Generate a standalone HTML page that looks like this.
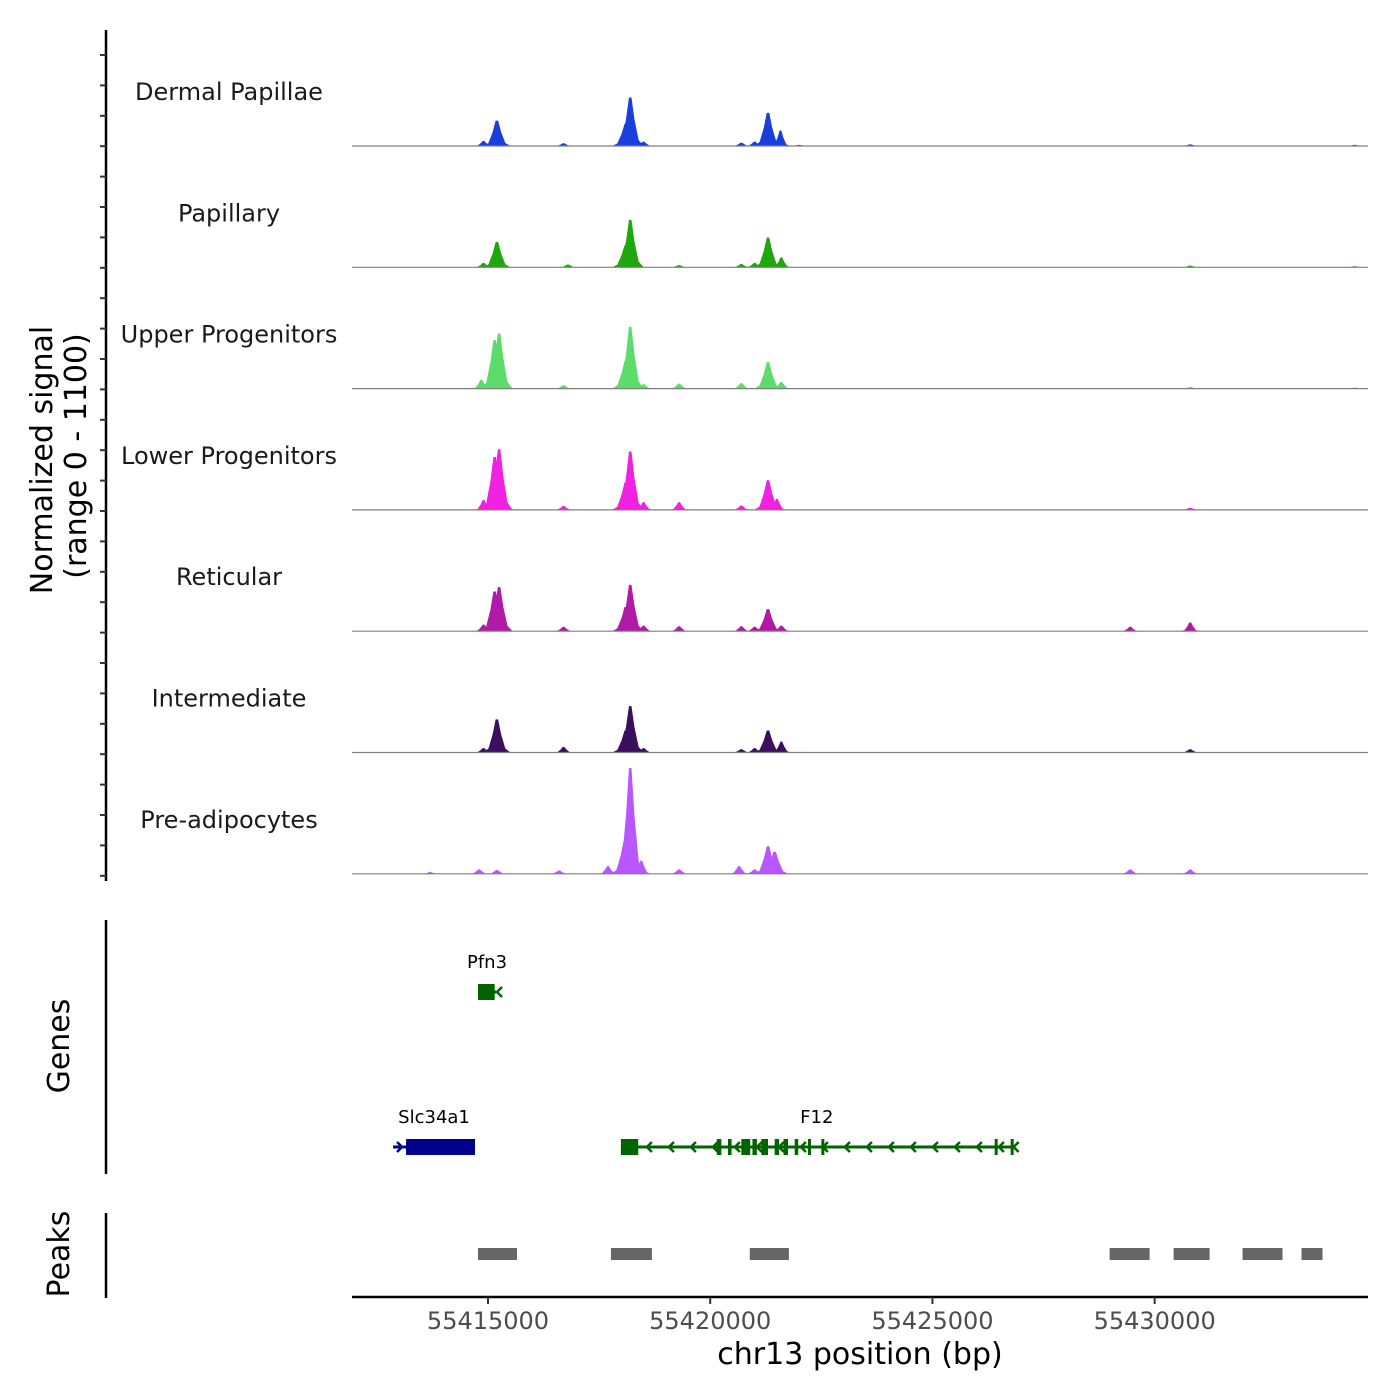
<!DOCTYPE html>
<html><head><meta charset="utf-8"><style>
html,body{margin:0;padding:0;background:#fff;}
svg{display:block;font-family:"DejaVu Sans","Liberation Sans",sans-serif;}
</style></head><body>
<svg id="chart" width="1400" height="1400" viewBox="0 0 1400 1400" xmlns="http://www.w3.org/2000/svg">
<rect width="1400" height="1400" fill="#fff"/>
<g id="tracks"></g>
<g id="genes"></g>
<g id="peaks"></g>
<g id="axes"></g>
</svg>
<script>
// ---- data ----
const xStart = 55411940, xEnd = 55434800;
const yMax = 1100;
const trackNames = ["Dermal Papillae","Papillary","Upper Progenitors","Lower Progenitors","Reticular","Intermediate","Pre-adipocytes"];
const trackColors = ["#1a3edb","#1ea80c","#5cdc6a","#ee22e0","#b01aa6","#3b0f5e","#b856ff"];
const peakPos = [
 [55414900,55415200,55416700,55418100,55418200,55418500,55420700,55421000,55421300,55421580,55422000,55430800,55434500],
 [55414900,55415200,55416800,55418100,55418200,55419300,55420700,55421000,55421300,55421600,55430800,55434500],
 [55414850,55415150,55415250,55416700,55418100,55418200,55418500,55419300,55420700,55421300,55421600,55430800,55434500],
 [55414900,55415150,55415250,55416700,55418100,55418200,55418500,55419300,55420700,55421300,55421500,55430800],
 [55414900,55415150,55415250,55416700,55418100,55418200,55418500,55419300,55420700,55421000,55421300,55421600,55429450,55430800],
 [55414900,55415200,55416700,55418100,55418200,55418500,55420700,55421000,55421300,55421600,55430800],
 [55413700,55414800,55415200,55416600,55417700,55418080,55418200,55418450,55419300,55420650,55421000,55421300,55421450,55429450,55430800]
];
const peakVal = [
 [45,230,25,200,440,40,30,40,300,140,10,15,10],
 [40,230,25,200,430,20,30,40,270,90,15,10],
 [80,440,500,30,250,560,40,45,50,240,60,15,10],
 [90,480,550,35,250,530,70,70,40,270,100,20],
 [60,360,400,40,220,420,50,45,45,40,200,50,40,80],
 [40,300,50,200,420,40,30,40,200,100,30],
 [15,40,35,30,70,300,960,120,40,70,40,250,200,40,40]
];
const geneNames = ["Pfn3","Slc34a1","F12"];
const geneStart = [55414775,55412864,55417990];
const geneEnd   = [55415180,55414708,55426805];
const geneRow   = [0,1,1];
const geneStrand= ["-","+","-"];
const geneColors= ["#006400","#00008b","#006400"];
const exonStarts = [[55414775],[55413156],[55417990,55418250,55420150,55420400,55420700,55420950,55421150,55421450,55421650,55421900,55422200,55422500,55426400,55426760]];
const exonEnds   = [[55415150],[55414708],[55418260,55418380,55420250,55420480,55420900,55421050,55421300,55421550,55421750,55421980,55422250,55422560,55426450,55426805]];
const peakStart = [55414775,55417766,55420890,55428987,55430426,55431978,55433304];
const peakEnd   = [55415652,55418688,55421770,55429886,55431236,55432877,55433777];
const xTicks = [55415000,55420000,55425000,55430000];

// ---- scales ----
const X0=352, X1=1368;
const sx = bp => X0 + (bp - xStart)/(xEnd - xStart)*(X1-X0);
const trackH = 121.3, firstBase = 146;
const NS="http://www.w3.org/2000/svg";
function mk(tag, attrs, parent){const e=document.createElementNS(NS,tag);for(const k in attrs)e.setAttribute(k,attrs[k]);parent.appendChild(e);return e;}

const tg=document.getElementById('tracks');
trackNames.forEach((name,i)=>{
  const base = firstBase + i*trackH;
  const sy = v => base - v/yMax*trackH;
  const g=mk('g',{},tg);
  
  
  peakPos[i].forEach((p,j)=>{
    const v=peakVal[i][j];
    const w = v>150 ? 380 : 260;
    const c=sx(p), hw=w/(xEnd-xStart)*(X1-X0)/2;
    const pts=[[c-hw*1.6,base],[c-hw*1.0,sy(v*0.12)],[c-hw*0.5,sy(v*0.55)],[c-hw*0.15,sy(v)],[c+hw*0.15,sy(v)],[c+hw*0.5,sy(v*0.55)],[c+hw*1.0,sy(v*0.12)],[c+hw*1.6,base]];
    const pk=mk('polygon',{points:pts.map(q=>q.join(',')).join(' '),fill:trackColors[i]},g);
    
    
  });
  const bl=mk('line',{x1:X0,x2:X1,y1:base,y2:base,stroke:'#7f7f7f','stroke-width':1.2},g);
  
  
  const lb=mk('text',{x:229,y:base-46,'text-anchor':'middle','font-size':24,fill:'#1a1a1a'},g);
  lb.textContent=name;
  
  
});

const gg=document.getElementById('genes');
geneNames.forEach((n,i)=>{
  const y = geneRow[i]===0 ? 992 : 1147;
  const col=geneColors[i];
  const g=mk('g',{},gg);
  
  
  mk('line',{x1:sx(geneStart[i]),x2:sx(geneEnd[i]),y1:y,y2:y,stroke:col,'stroke-width':3},g);
  exonStarts[i].forEach((s,k)=>{
    mk('rect',{x:sx(s),y:y-8,width:Math.max(3,sx(exonEnds[i][k])-sx(s)),height:16,fill:col},g);
  });
  const a=sx(geneStart[i]), b=sx(geneEnd[i]);
  for(let x=a+4;x<b;x+=22){
    const d = geneStrand[i]==='-' ? `M${x+5},${y-5} L${x},${y} L${x+5},${y+5}` : `M${x},${y-5} L${x+5},${y} L${x},${y+5}`;
    mk('path',{d:d,stroke:col,'stroke-width':2.5,fill:'none'},g);
  }
  if(geneStrand[i]==='-'){mk('path',{d:`M${b+6},${y-5} L${b+1},${y} L${b+6},${y+5}`,stroke:col,'stroke-width':2.5,fill:'none'},g);}
  const t=mk('text',{x:(a+b)/2,y:y-24,'text-anchor':'middle','font-size':18,fill:'#000'},g);
  t.textContent=n;
  
  
});

const pg=document.getElementById('peaks');
peakStart.forEach((s,i)=>{
  const r=mk('rect',{x:sx(s),y:1248,width:sx(peakEnd[i])-sx(s),height:12,fill:'#666'},pg);
  
  
});

const ax=document.getElementById('axes');
const vl=mk('line',{x1:106,x2:106,y1:30,y2:881,stroke:'#000','stroke-width':2.5},ax);


for(let k=0;k<28;k++){
  const y=55+k*30.4;
  if(y>880)break;
  mk('line',{x1:100,x2:106,y1:y,y2:y,stroke:'#333','stroke-width':2},ax);
}
const gl=mk('line',{x1:106,x2:106,y1:920,y2:1174,stroke:'#000','stroke-width':2.5},ax);


const pl=mk('line',{x1:106,x2:106,y1:1213,y2:1298,stroke:'#000','stroke-width':2.5},ax);


const xl=mk('line',{x1:352,x2:1368,y1:1297,y2:1297,stroke:'#000','stroke-width':2.5},ax);


xTicks.forEach(t=>{
  mk('line',{x1:sx(t),x2:sx(t),y1:1297,y2:1304,stroke:'#333','stroke-width':2},ax);
  const tx=mk('text',{x:sx(t),y:1329,'text-anchor':'middle','font-size':24,fill:'#4d4d4d'},ax);
  tx.textContent=String(t);
  
  
});
const xt=mk('text',{x:860,y:1364,'text-anchor':'middle','font-size':30,fill:'#000'},ax);
xt.textContent='chr13 position (bp)';


function rot(txt,x,y,name){
  const t=mk('text',{x:0,y:0,'text-anchor':'middle','font-size':30,fill:'#000',transform:`translate(${x},${y}) rotate(-90)`},ax);
  t.textContent=txt;
  
  
}
rot('Normalized signal',52,460,'y-axis-title');
rot('(range 0 - 1100)',86,456,'y-axis-subtitle');
rot('Genes',69,1046,'genes-axis-title');
rot('Peaks',69,1254,'peaks-axis-title');
</script>
</body></html>
